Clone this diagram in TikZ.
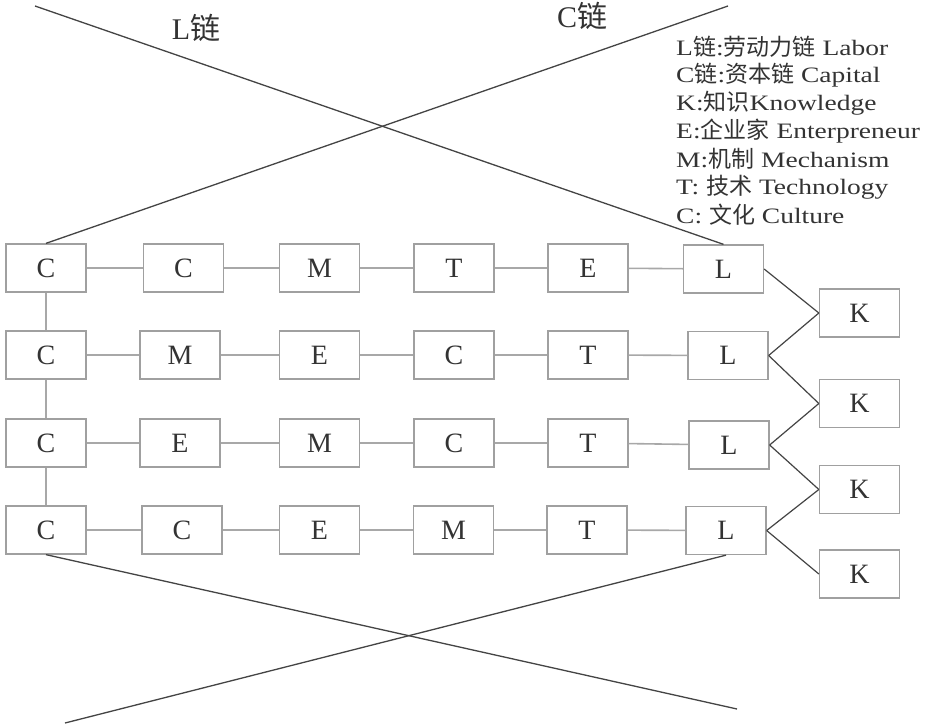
\documentclass[tikz,border=0pt]{standalone}
\usepackage{fontspec}
\setmainfont{Liberation Serif}
\newfontfamily\cjkfam{Noto Sans CJK SC}
\newfontfamily\legfont{Liberation Serif}[FakeStretch=1.25]
\newcommand{\zhc}[1]{{\cjkfam\fontsize{23}{26}\selectfont #1}}
\newcommand{\zhbig}[1]{{\cjkfam #1}}
\definecolor{boxgray}{HTML}{A0A0A0}
\definecolor{linkgray}{HTML}{A8A8A8}
\definecolor{darkline}{HTML}{444444}
\definecolor{txt}{HTML}{333333}
\tikzset{
  cell/.style={draw=boxgray, line width=1.3pt, minimum width=80pt, minimum height=48pt, inner sep=0pt,
    text=txt, font=\fontsize{28}{30}\selectfont},
  link/.style={draw=linkgray, line width=1.6pt},
  cross/.style={draw=darkline, line width=1.3pt},
  klink/.style={draw=darkline, line width=1.2pt},
  legline/.style={anchor=west, inner sep=0pt, text=txt, font=\legfont\fontsize{22}{26}\selectfont},
  chainlab/.style={inner sep=0pt, text=txt, font=\fontsize{30}{33}\selectfont}
}
\begin{document}
\begin{tikzpicture}[x=1pt,y=-1pt]
\fill[white] (0,0) rectangle (929,725);
\useasboundingbox (0,0) rectangle (929,725);
% row 1
\node[cell] (r1a) at (46,268) {C};
\node[cell] (r1b) at (183.5,268) {C};
\node[cell] (r1c) at (319.5,268) {M};
\node[cell] (r1d) at (454,268) {T};
\node[cell] (r1e) at (588,268) {E};
\node[cell] (r1f) at (723.5,269) {L};
% row 2
\node[cell] (r2a) at (46,355) {C};
\node[cell] (r2b) at (180,355) {M};
\node[cell] (r2c) at (319.5,355) {E};
\node[cell] (r2d) at (454,355) {C};
\node[cell] (r2e) at (588,355) {T};
\node[cell] (r2f) at (728,355.5) {L};
% row 3
\node[cell] (r3a) at (46,443) {C};
\node[cell] (r3b) at (180,443) {E};
\node[cell] (r3c) at (319.5,443) {M};
\node[cell] (r3d) at (454,443) {C};
\node[cell] (r3e) at (588,443) {T};
\node[cell] (r3f) at (729,445) {L};
% row 4
\node[cell] (r4a) at (46,530) {C};
\node[cell] (r4b) at (182,530) {C};
\node[cell] (r4c) at (319.5,530) {E};
\node[cell] (r4d) at (453.5,530) {M};
\node[cell] (r4e) at (587,530) {T};
\node[cell] (r4f) at (726,530.5) {L};
% K boxes
\node[cell] (k1) at (859.5,313) {K};
\node[cell] (k2) at (859.5,403.5) {K};
\node[cell] (k3) at (859.5,489.5) {K};
\node[cell] (k4) at (859.5,574) {K};
% horizontal links
\foreach \r in {1,2,3,4}{
  \draw[link] (r\r a) -- (r\r b);
  \draw[link] (r\r b) -- (r\r c);
  \draw[link] (r\r c) -- (r\r d);
  \draw[link] (r\r d) -- (r\r e);
  \draw[link] (r\r e) -- (r\r f);
}
% vertical links
\draw[link] (r1a.south) -- (r2a.north);
\draw[link] (r2a.south) -- (r3a.north);
\draw[link] (r3a.south) -- (r4a.north);
% L - K links
\draw[klink] (r1f.east) -- (k1.west);
\draw[klink] (r2f.east) -- (k1.west);
\draw[klink] (r2f.east) -- (k2.west);
\draw[klink] (r3f.east) -- (k2.west);
\draw[klink] (r3f.east) -- (k3.west);
\draw[klink] (r4f.east) -- (k3.west);
\draw[klink] (r4f.east) -- (k4.west);
% crossing chains
\coordinate (tl) at (35,6);
\coordinate (tr) at (728,6);
\coordinate (bl) at (65,723);
\coordinate (br) at (737,709);
\draw[cross] (tl) -- (r1f.north);
\draw[cross] (r1a.north) -- (tr);
\draw[cross] (r4a.south) -- (br);
\draw[cross] (r4f.south) -- (bl);
% chain labels
\node[chainlab] (lchain) at (196,28) {L\zhbig{链}};
\node[chainlab] (cchain) at (582,16) {C\zhbig{链}};
% legend
\node[legline] (leg1) at (676,47) {L\zhc{链}:\zhc{劳动力链} Labor};
\node[legline] (leg2) at (676,75) {C\zhc{链}:\zhc{资本链} Capital};
\node[legline] (leg3) at (676,103) {K:\zhc{知识}Knowledge};
\node[legline] (leg4) at (676,131) {E:\zhc{企业家} Enterpreneur};
\node[legline] (leg5) at (676,159) {M:\zhc{机制} Mechanism};
\node[legline] (leg6) at (676,187) {T: \zhc{技术} Technology};
\node[legline] (leg7) at (676,215) {C: \zhc{文化} Culture};
\end{tikzpicture}
\end{document}
